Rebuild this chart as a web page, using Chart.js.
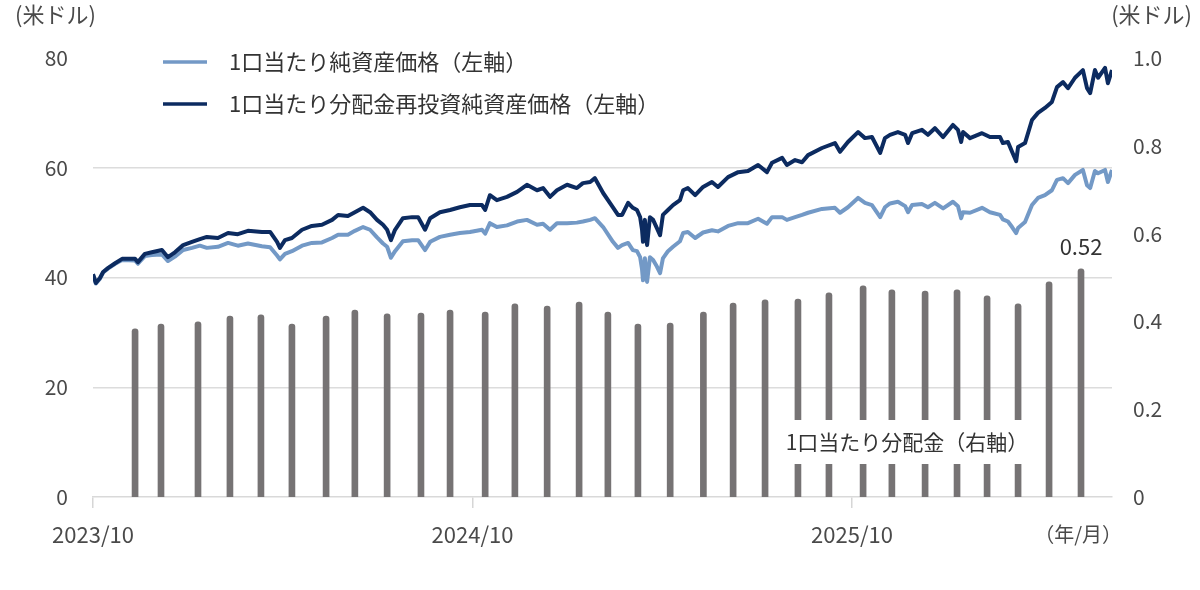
<!DOCTYPE html>
<html>
<head>
<meta charset="utf-8">
<script src="https://cdn.jsdelivr.net/npm/chart.js@4.4.1/dist/chart.umd.min.js"></script>
<style>
  body { margin: 0; background: #fff; }
  #chart { display: block; }
</style>
</head>
<body>
<canvas id="chart" width="1200" height="590"></canvas>
<script>
// x values are months since the start of 2023/10
const lineMonths = [0.00,0.09,0.22,0.32,0.47,0.70,0.92,1.33,1.42,1.64,
  1.86,2.18,2.37,2.59,2.85,3.13,3.38,3.60,3.95,4.27,
  4.58,4.90,5.34,5.60,5.82,5.91,6.07,6.29,6.61,6.92,
  7.24,7.56,7.75,8.06,8.28,8.54,8.76,8.98,9.17,9.30,
  9.42,9.55,9.80,10.09,10.28,10.50,10.66,10.97,11.29,11.60,
  11.92,12.30,12.40,12.55,12.77,13.09,13.41,13.72,14.04,14.23,
  14.45,14.67,14.99,15.30,15.49,15.72,15.87,16.13,16.44,16.60,
  16.73,16.92,17.07,17.20,17.30,17.36,17.39,17.45,17.52,17.61,
  17.71,17.83,17.93,18.02,18.18,18.34,18.56,18.66,18.81,19.04,
  19.29,19.57,19.76,20.08,20.40,20.71,21.03,21.31,21.47,21.79,
  21.94,22.20,22.42,22.61,23.05,23.46,23.62,23.87,24.19,24.41,
  24.63,24.89,25.04,25.20,25.45,25.68,25.77,25.90,26.21,26.40,
  26.62,26.88,27.19,27.35,27.45,27.51,27.73,28.11,28.36,28.68,
  28.77,28.93,29.06,29.19,29.25,29.47,29.69,29.88,30.10,30.32,
  30.48,30.67,30.83,31.05,31.30,31.43,31.53,31.68,31.78,32.00,
  32.09,32.22];

// 1口当たり純資産価格
const navPrice = [40.5,38.9,39.8,40.9,41.6,42.5,43.2,43.1,42.5,43.9,
  44.1,44.2,43.0,43.8,45.0,45.4,45.8,45.4,45.6,46.3,
  45.8,46.2,45.7,45.5,44.0,43.3,44.3,44.8,45.8,46.3,
  46.4,47.2,47.8,47.8,48.5,49.2,48.7,47.3,46.2,45.6,
  43.6,44.8,46.6,46.8,46.8,45.0,46.5,47.4,47.8,48.1,
  48.3,48.7,48.0,49.9,49.2,49.5,50.2,50.5,49.6,49.8,
  48.7,49.9,49.9,50.0,50.2,50.5,50.8,49.2,46.5,45.4,
  45.9,46.3,45.0,44.8,43.7,41.5,39.5,43.5,39.2,43.7,
  43.2,42.0,40.8,43.5,44.8,45.6,46.6,48.1,48.3,47.2,
  48.2,48.6,48.4,49.4,49.9,49.9,50.7,49.8,51.0,51.0,
  50.5,51.0,51.4,51.8,52.5,52.7,51.8,52.8,54.5,53.6,
  53.2,51.0,52.8,53.5,53.8,53.0,51.9,53.2,53.4,52.8,
  53.6,52.6,53.8,53.0,50.8,51.9,51.8,52.7,51.9,51.4,
  50.6,50.2,49.2,48.1,49.0,50.1,53.2,54.5,55.0,55.9,
  57.8,58.1,57.2,58.7,59.6,56.8,56.3,59.4,59.0,59.6,
  57.4,59.6];

// 1口当たり分配金再投資純資産価格
const reinvPrice = [40.6,39.0,39.9,41.0,41.7,42.6,43.4,43.4,42.8,44.3,
  44.6,45.0,43.7,44.6,45.9,46.5,47.0,47.4,47.2,48.1,
  47.9,48.5,48.3,48.3,46.5,45.4,46.8,47.2,48.7,49.4,
  49.6,50.5,51.4,51.2,51.9,52.7,51.9,50.5,49.6,48.7,
  46.8,48.7,50.8,51.0,51.0,48.7,50.8,51.9,52.3,52.8,
  53.2,53.2,52.3,55.0,54.1,54.7,55.6,56.9,55.9,56.3,
  54.7,55.9,56.9,56.3,57.2,57.4,58.1,55.4,52.8,51.4,
  51.4,53.6,52.7,52.3,51.0,48.7,46.5,50.5,45.9,51.0,
  50.5,49.0,47.7,51.4,52.3,53.2,54.1,55.9,56.3,55.0,
  56.5,57.4,56.5,58.3,59.2,59.4,60.5,59.2,60.9,61.8,
  60.5,61.4,61.0,62.3,63.6,64.5,62.9,64.7,66.5,65.4,
  65.6,62.7,65.4,66.0,66.5,66.0,64.5,66.3,66.9,66.0,
  67.2,65.6,67.8,66.9,64.7,66.5,65.4,66.3,65.6,65.6,
  64.5,64.7,62.9,61.2,63.8,64.5,68.7,70.0,70.9,72.0,
  74.7,75.6,74.5,76.4,77.8,74.5,73.6,77.8,76.4,78.2,
  75.4,77.8];

// 1口当たり分配金
const distMonths = [1.33,2.15,3.32,4.33,5.31,6.29,7.37,8.28,9.30,10.37,
  11.29,12.40,13.34,14.36,15.37,16.28,17.23,18.25,19.30,20.24,
  21.25,22.29,23.27,24.35,25.26,26.31,27.32,28.27,29.25,30.23,31.24];
const distValues = [0.383,0.394,0.399,0.412,0.415,0.394,0.412,0.426,0.417,0.419,
  0.426,0.421,0.440,0.435,0.444,0.421,0.394,0.396,0.421,0.442,
  0.449,0.451,0.465,0.481,0.472,0.469,0.472,0.458,0.440,0.490,0.52];

const xTickMonths = [0, 12, 24];
const xTickLabels = ["2023/10", "2024/10", "2025/10"];
const leftTicks = [0, 20, 40, 60, 80];
const rightTicks = [0, 0.2, 0.4, 0.6, 0.8, 1.0];

const seriesNames = ["1口当たり純資産価格（左軸）", "1口当たり分配金再投資純資産価格（左軸）"];
const barName = "1口当たり分配金（右軸）";

const lightBlue = "#7399c6";
const darkBlue = "#0c2b60";
const barGray = "#767374";
const textColor = "#4a4a4a";
const FONT = "'Noto Sans CJK JP', 'Noto Sans', sans-serif";

const toXY = (xs, ys) => xs.map((x, i) => ({ x: x, y: ys[i] }));

const decor = {
  id: "decor",
  afterDatasetsDraw(chart) {
    const ctx = chart.ctx;
    const x = chart.scales.x;
    const y1 = chart.scales.y1;
    ctx.save();
    // label box for the bars
    ctx.font = "21px " + FONT;
    ctx.fillStyle = "#ffffff";
    const w = ctx.measureText(barName).width;
    const cx = 907, cy = 442;
    ctx.fillRect(cx - w / 2 - 12, cy - 22, w + 24, 44);
    ctx.fillStyle = "#333333";
    ctx.textAlign = "center";
    ctx.textBaseline = "middle";
    ctx.fillText(barName, cx, cy);
    // last distribution value
    const last = distValues.length - 1;
    ctx.font = "22px " + FONT;
    ctx.fillText(distValues[last].toFixed(2), x.getPixelForValue(distMonths[last]), y1.getPixelForValue(distValues[last]) - 22);
    ctx.restore();
  },
  afterDraw(chart) {
    const ctx = chart.ctx;
    ctx.save();
    ctx.font = "22px " + FONT;
    ctx.fillStyle = textColor;
    ctx.textBaseline = "middle";
    ctx.textAlign = "left";
    ctx.fillText("(米ドル)", 15, 15);
    ctx.textAlign = "right";
    ctx.fillText("(米ドル)", 1192, 15);
    ctx.font = "20px " + FONT;
    ctx.fillText("（年/月）", 1122, 534);
    // legend
    const colors = [lightBlue, darkBlue];
    ctx.font = "22px " + FONT;
    ctx.textAlign = "left";
    ctx.fillStyle = "#333333";
    seriesNames.forEach((name, i) => {
      const ly = 62 + i * 42;
      ctx.strokeStyle = colors[i];
      ctx.lineWidth = 3.5;
      ctx.beginPath();
      ctx.moveTo(163, ly);
      ctx.lineTo(207, ly);
      ctx.stroke();
      ctx.fillText(name, 229, ly);
    });
    ctx.restore();
  }
};

new Chart(document.getElementById("chart"), {
  type: "bar",
  data: {
    datasets: [
      {
        type: "line",
        label: seriesNames[0],
        data: toXY(lineMonths, navPrice),
        borderColor: lightBlue,
        borderWidth: 4,
        pointRadius: 0,
        tension: 0,
        borderJoinStyle: "round",
        yAxisID: "y",
        order: 2
      },
      {
        type: "line",
        label: seriesNames[1],
        data: toXY(lineMonths, reinvPrice),
        borderColor: darkBlue,
        borderWidth: 4,
        pointRadius: 0,
        tension: 0,
        borderJoinStyle: "round",
        yAxisID: "y",
        order: 1
      },
      {
        label: barName,
        data: toXY(distMonths, distValues),
        backgroundColor: barGray,
        barThickness: 6,
        borderRadius: 3,
        borderSkipped: "bottom",
        yAxisID: "y1",
        order: 3
      }
    ]
  },
  options: {
    responsive: false,
    animation: false,
    devicePixelRatio: 1,
    layout: { padding: { top: 58, left: 0, right: 0, bottom: 0 } },
    plugins: { legend: { display: false }, tooltip: { enabled: false } },
    scales: {
      x: {
        type: "linear",
        offset: false,
        min: 0,
        max: 32.22,
        afterBuildTicks: (scale) => { scale.ticks = xTickMonths.map(v => ({ value: v })); },
        afterFit: (scale) => { scale.height = 93; },
        ticks: {
          font: { family: FONT, size: 22 },
          color: textColor,
          padding: 13,
          maxRotation: 0,
          callback: (v) => xTickLabels[xTickMonths.indexOf(v)]
        },
        grid: { offset: false, drawOnChartArea: false, drawTicks: true, tickLength: 11, color: "#d6d6d6", lineWidth: 1.5 },
        border: { color: "#d9d9d9", width: 1.5 }
      },
      y: {
        position: "left",
        min: 0,
        max: 80,
        afterBuildTicks: (scale) => { scale.ticks = leftTicks.map(v => ({ value: v })); },
        afterFit: (scale) => { scale.width = 93; },
        ticks: { font: { family: FONT, size: 21 }, color: textColor, padding: 25 },
        grid: {
          drawTicks: false,
          lineWidth: 1.5,
          color: (c) => (c.tick && (c.tick.value === 0 || c.tick.value === 80)) ? "rgba(0,0,0,0)" : "#dcdcdc"
        },
        border: { display: false }
      },
      y1: {
        position: "right",
        min: 0,
        max: 1,
        afterBuildTicks: (scale) => { scale.ticks = rightTicks.map(v => ({ value: v })); },
        afterFit: (scale) => { scale.width = 88; },
        ticks: {
          font: { family: FONT, size: 21 },
          color: textColor,
          padding: 21,
          callback: (v) => v === 0 ? "0" : v.toFixed(1)
        },
        grid: { display: false, drawTicks: false },
        border: { display: false }
      }
    }
  },
  plugins: [decor]
});
</script>
</body>
</html>
